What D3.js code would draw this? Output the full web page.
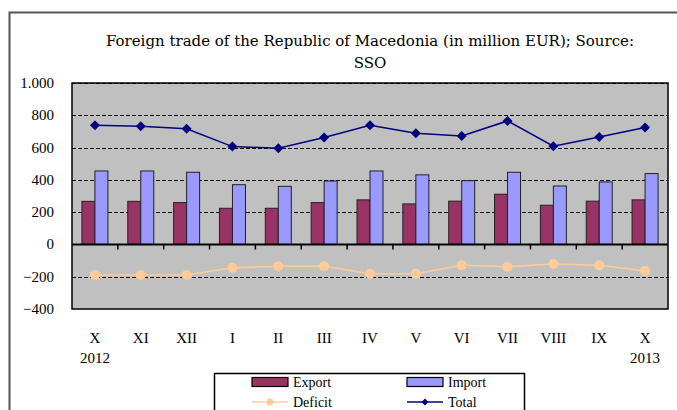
<!DOCTYPE html>
<html>
<head>
<meta charset="utf-8">
<script src="https://cdn.jsdelivr.net/npm/d3@7"></script>
<style>
  body { margin: 0; background: #fff; }
</style>
</head>
<body>
<svg id="chart"></svg>
<script>
var width = 677, height = 410;
var serif = "'Liberation Serif', 'Times New Roman', serif";

var months = ["X", "XI", "XII", "I", "II", "III", "IV", "V", "VI", "VII", "VIII", "IX", "X"];
var years = ["2012", "", "", "", "", "", "", "", "", "", "", "", "2013"];
var exportVals = [267, 267, 259, 224, 224, 259, 276, 251, 268, 311, 243, 268, 276];
var importVals = [455, 455, 447, 370, 360, 393, 455, 431, 395, 447, 362, 387, 439];
var deficitVals = [-189, -189, -189, -144, -135, -135, -181, -181, -129, -139, -121, -129, -164];
var totalVals = [738, 732, 716, 606, 596, 662, 738, 689, 672, 765, 608, 666, 724];
var yTicks = [1000, 800, 600, 400, 200, 0, -200, -400];

var plot = { left: 72, top: 83, right: 668, bottom: 309 };

var svg = d3.select("#chart").attr("width", width).attr("height", height);

// outer chart frame (left and top edges visible)
svg.append("path")
	.attr("d", "M9.5," + height + "V12.5H" + width)
	.attr("fill", "none")
	.attr("stroke", "#555")
	.attr("stroke-width", 2);

svg.append("text").attr("x", 370).attr("y", 46).attr("text-anchor", "middle")
	.style("font-family", "'DejaVu Serif', serif").style("font-size", "15px")
	.text("Foreign trade of the Republic of Macedonia (in million EUR); Source:");
svg.append("text").attr("x", 370).attr("y", 68).attr("text-anchor", "middle")
	.style("font-family", "'DejaVu Serif', serif").style("font-size", "15px")
	.text("SSO");

var x = d3.scaleBand().domain(d3.range(months.length)).range([plot.left, plot.right]).padding(0);
var y = d3.scaleLinear().domain([-400, 1000]).range([plot.bottom, plot.top]);
var barW = 13;

var g = svg.append("g");

g.append("rect")
	.attr("x", plot.left).attr("y", plot.top)
	.attr("width", plot.right - plot.left).attr("height", plot.bottom - plot.top)
	.attr("fill", "#c0c0c0");

// dashed gridlines
g.selectAll(".grid").data(yTicks.filter(function(d) { return d != 0 && d != -400; }))
	.enter().append("line")
	.attr("x1", plot.left).attr("x2", plot.right)
	.attr("y1", function(d) { return Math.round(y(d)) + 0.5; })
	.attr("y2", function(d) { return Math.round(y(d)) + 0.5; })
	.attr("stroke", "#000").attr("stroke-width", 1).attr("stroke-dasharray", "4,2");

// y axis labels
g.selectAll(".ylab").data(yTicks).enter().append("text")
	.attr("x", plot.left - 18).attr("y", function(d) { return y(d) + 5; })
	.attr("text-anchor", "end")
	.style("font-family", serif).style("font-size", "15px")
	.text(function(d) { return d3.format(",")(d).replace(",", "."); });

// bars
g.selectAll(".exp").data(exportVals).enter().append("rect")
	.attr("x", function(d, i) { return x(i) + x.bandwidth() / 2 - barW; })
	.attr("y", function(d) { return y(d); })
	.attr("width", barW).attr("height", function(d) { return y(0) - y(d); })
	.attr("fill", "#993366").attr("stroke", "#222").attr("stroke-width", 1);

g.selectAll(".imp").data(importVals).enter().append("rect")
	.attr("x", function(d, i) { return x(i) + x.bandwidth() / 2; })
	.attr("y", function(d) { return y(d); })
	.attr("width", barW).attr("height", function(d) { return y(0) - y(d); })
	.attr("fill", "#9999ff").attr("stroke", "#222").attr("stroke-width", 1);

// plot frame
g.append("rect")
	.attr("x", plot.left).attr("y", plot.top)
	.attr("width", plot.right - plot.left).attr("height", plot.bottom - plot.top)
	.attr("fill", "none").attr("stroke", "#000").attr("stroke-width", 1.5);

// zero axis with ticks
g.append("line")
	.attr("x1", plot.left).attr("x2", plot.right)
	.attr("y1", y(0)).attr("y2", y(0))
	.attr("stroke", "#000").attr("stroke-width", 2);
g.selectAll(".xtick").data(d3.range(1, months.length)).enter().append("line")
	.attr("x1", function(d) { return x(d); }).attr("x2", function(d) { return x(d); })
	.attr("y1", y(0)).attr("y2", y(0) + 5)
	.attr("stroke", "#000").attr("stroke-width", 1.5);

var cx = function(d, i) { return x(i) + x.bandwidth() / 2; };

// deficit line
g.append("path").datum(deficitVals)
	.attr("fill", "none").attr("stroke", "#ffcc99").attr("stroke-width", 1.5)
	.attr("d", d3.line().x(cx).y(function(d) { return y(d); }));
g.selectAll(".def").data(deficitVals).enter().append("circle")
	.attr("cx", cx).attr("cy", function(d) { return y(d); })
	.attr("r", 5).attr("fill", "#ffcc99");

// total line
g.append("path").datum(totalVals)
	.attr("fill", "none").attr("stroke", "#000080").attr("stroke-width", 1.5)
	.attr("d", d3.line().x(cx).y(function(d) { return y(d); }));
g.selectAll(".tot").data(totalVals).enter().append("path")
	.attr("transform", function(d, i) { return "translate(" + cx(d, i) + "," + y(d) + ")"; })
	.attr("d", "M0,-5L5,0L0,5L-5,0Z")
	.attr("fill", "#000080");

// category labels
g.selectAll(".xlab").data(months).enter().append("text")
	.attr("x", function(d, i) { return cx(d, i); }).attr("y", 343)
	.attr("text-anchor", "middle")
	.style("font-family", serif).style("font-size", "15px")
	.text(function(d) { return d; });
g.selectAll(".yrlab").data(years).enter().append("text")
	.attr("x", function(d, i) { return cx(d, i); }).attr("y", 363)
	.attr("text-anchor", "middle")
	.style("font-family", serif).style("font-size", "15px")
	.text(function(d) { return d; });

// legend
var lg = svg.append("g");
lg.append("rect").attr("x", 214.5).attr("y", 373.5).attr("width", 310).attr("height", 50)
	.attr("fill", "#fff").attr("stroke", "#000").attr("stroke-width", 1.5);

var legendItems = [
	{ name: "Export", kind: "bar", color: "#993366", lx: 252, ly: 382 },
	{ name: "Import", kind: "bar", color: "#9999ff", lx: 407, ly: 382 },
	{ name: "Deficit", kind: "circle", color: "#ffcc99", lx: 252, ly: 402 },
	{ name: "Total", kind: "diamond", color: "#000080", lx: 407, ly: 402 }
];
legendItems.forEach(function(it) {
	if (it.kind == "bar") {
		lg.append("rect").attr("x", it.lx).attr("y", it.ly - 4.5).attr("width", 36).attr("height", 9)
			.attr("fill", it.color).attr("stroke", "#000").attr("stroke-width", 1.2);
	} else {
		lg.append("line").attr("x1", it.lx).attr("x2", it.lx + 36).attr("y1", it.ly).attr("y2", it.ly)
			.attr("stroke", it.color).attr("stroke-width", 1.5);
		if (it.kind == "circle")
			lg.append("circle").attr("cx", it.lx + 18).attr("cy", it.ly).attr("r", 3.5).attr("fill", it.color);
		else
			lg.append("path").attr("transform", "translate(" + (it.lx + 18) + "," + it.ly + ")")
				.attr("d", "M0,-3.5L3.5,0L0,3.5L-3.5,0Z").attr("fill", it.color);
	}
	lg.append("text").attr("x", it.lx + 41).attr("y", it.ly + 5)
		.style("font-family", serif).style("font-size", "14px").text(it.name);
});
</script>
</body>
</html>
